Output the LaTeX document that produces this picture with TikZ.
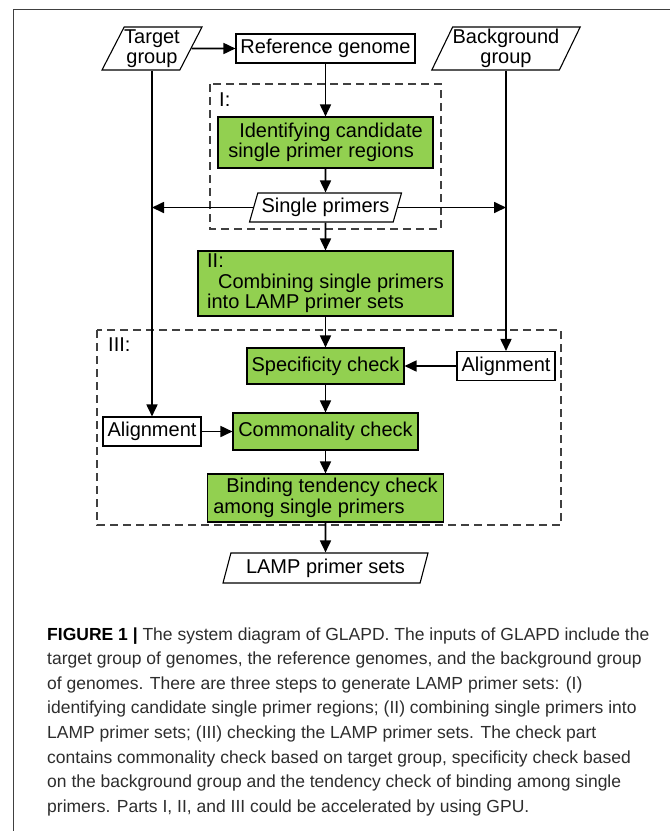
\documentclass[tikz,border=0pt]{standalone}
\usepackage{fontspec}
\setmainfont{Liberation Sans}
\usetikzlibrary{shapes.geometric,arrows.meta}
\definecolor{boxgreen}{RGB}{146,208,80}
\definecolor{captext}{RGB}{45,45,45}
\begin{document}
\begin{tikzpicture}[x=1pt,y=-1pt,
  every node/.style={font=\fontsize{20}{20.5}\selectfont, inner sep=0pt},
  plainbox/.style={draw, line width=1.1pt, fill=white, rectangle},
  greenbox/.style={draw, line width=1.1pt, fill=boxgreen, rectangle, align=left},
  iobox/.style={draw, line width=1.1pt, fill=white, trapezium, trapezium stretches body, align=center},
  arr/.style={line width=1.7pt, -{Triangle[length=12pt,width=11pt]}},
  dashbox/.style={draw=black!75, line width=1.1pt, dash pattern=on 8pt off 5pt},
  captionline/.style={anchor=base west, text=captext, font=\fontsize{17.5}{20}\selectfont}]
\useasboundingbox (0,0) rectangle (670,831);
% frame
\draw[line width=1pt, black!75] (13,831) -- (13,9) -- (670,9);
% dashed regions
\draw[dashbox] (210,84) rectangle (441,229);
\draw[dashbox] (97,330) rectangle (561,525);
\node[anchor=west] (lI) at (219,100) {I:};
\node[anchor=west] (lIII) at (108,345) {III:};
% nodes
\node[iobox, trapezium left angle=60, trapezium right angle=120, minimum width=100pt, minimum height=43pt] (target) at (152,48.5) {Target\\group};
\node[iobox, trapezium left angle=62, trapezium right angle=118, minimum width=148pt, minimum height=43pt] (bg) at (506,48.5) {Background\\group};
\node[plainbox, minimum width=179pt, minimum height=29pt] (ref) at (325.5,48.5) {Reference genome};
\node[greenbox, minimum width=215pt, minimum height=51pt] (ident) at (325.5,142.5) {\hspace*{11pt}Identifying candidate\\single primer regions};
\node[iobox, trapezium left angle=66, trapezium right angle=114, minimum width=152pt, minimum height=29pt] (sp) at (325.5,207.5) {Single primers};
\node[greenbox, minimum width=255pt, minimum height=65pt] (comb) at (325.5,283.5) {II:\\\hspace*{11pt}Combining single primers\\into LAMP primer sets};
\node[greenbox, minimum width=157pt, minimum height=36pt] (spec) at (325.5,366) {Specificity check};
\node[plainbox, minimum width=98pt, minimum height=29pt] (alignR) at (506,366) {Alignment};
\node[greenbox, minimum width=185pt, minimum height=37pt] (comm) at (325.5,431.5) {Commonality check};
\node[plainbox, minimum width=98pt, minimum height=29pt] (alignL) at (152,431.5) {Alignment};
\node[greenbox, minimum width=236pt, minimum height=48pt] (bind) at (325.5,498) {\hspace*{13pt}Binding tendency check\\among single primers};
\node[iobox, trapezium left angle=67, trapezium right angle=113, minimum width=205pt, minimum height=30pt] (lamp) at (325.5,568) {LAMP primer sets};
% connectors
\draw[arr] (target.east) -- (ref.west);
\draw[arr] (ref.south) -- (ident.north);
\draw[arr] (ident.south) -- (sp.north);
\draw[arr] (sp.south) -- (comb.north);
\draw[arr] (comb.south) -- (spec.north);
\draw[arr] (spec.south) -- (comm.north);
\draw[arr] (comm.south) -- (bind.north);
\draw[arr] (bind.south) -- (lamp.north);
\draw[arr] (alignR.west) -- (spec.east);
\draw[arr] (alignL.east) -- (comm.west);
\draw[arr] (alignL.north |- target.south) -- (alignL.north);
\draw[arr] (alignR.north |- bg.south) -- (alignR.north);
\draw[arr] (sp.west) -- (sp.west -| alignL.north);
\draw[arr] (sp.east) -- (sp.east -| alignR.north);
% caption
\node[captionline] (c1) at (47,640) {\textbf{\color{black}FIGURE 1 |} The system diagram of GLAPD. The inputs of GLAPD include the};
\node[captionline] (c2) at (47,664.6) {target group of genomes, the reference genomes, and the background group};
\node[captionline] (c3) at (47,689.2) {of genomes. There are three steps to generate LAMP primer sets: (I)};
\node[captionline] (c4) at (47,713.8) {identifying candidate single primer regions; (II) combining single primers into};
\node[captionline] (c5) at (47,738.4) {LAMP primer sets; (III) checking the LAMP primer sets. The check part};
\node[captionline] (c6) at (47,763) {contains commonality check based on target group, specificity check based};
\node[captionline] (c7) at (47,787.6) {on the background group and the tendency check of binding among single};
\node[captionline] (c8) at (47,812.2) {primers. Parts I, II, and III could be accelerated by using GPU.};
\end{tikzpicture}
\end{document}
